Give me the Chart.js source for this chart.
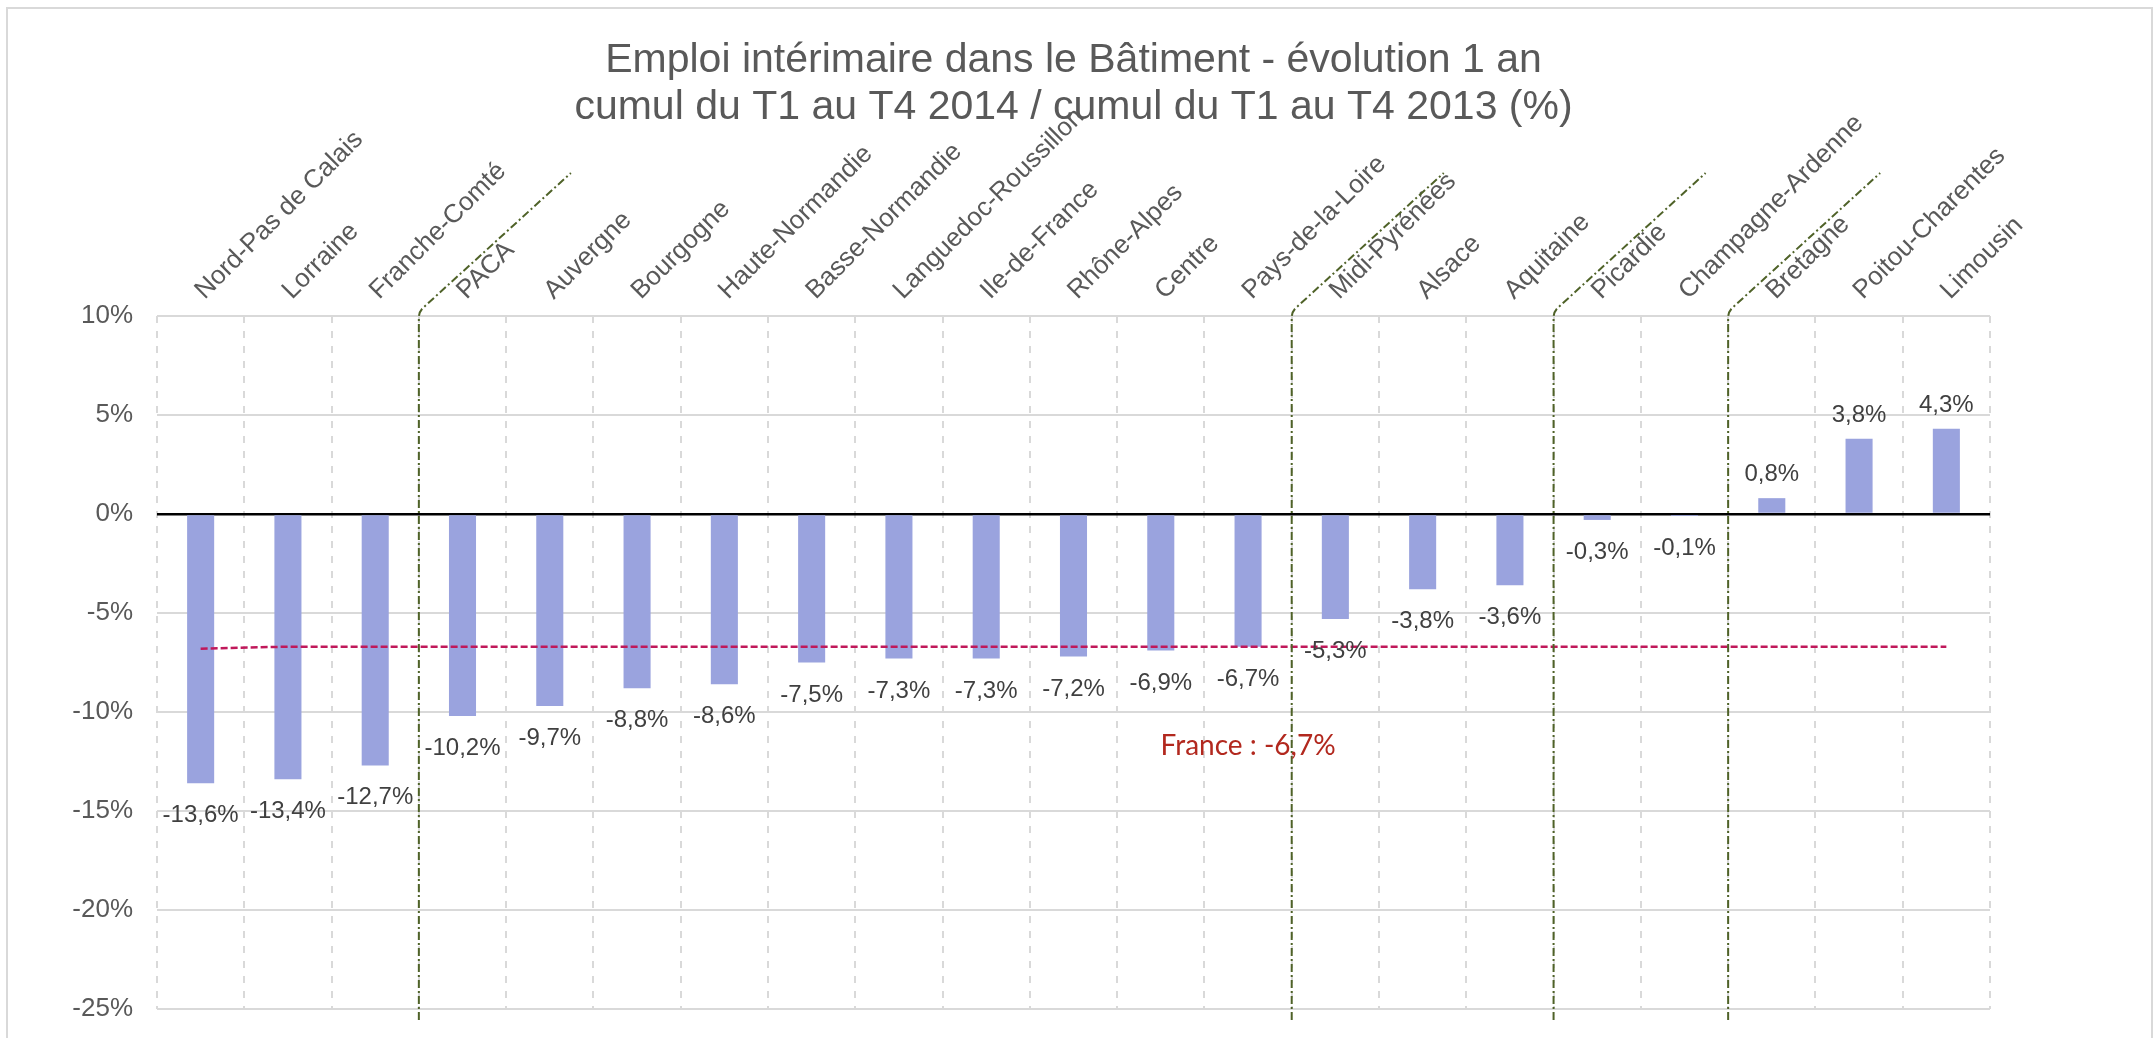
<!DOCTYPE html>
<html lang="fr">
<head>
<meta charset="UTF-8">
<title>Emploi intérimaire dans le Bâtiment</title>
<script src="https://cdn.jsdelivr.net/npm/chart.js@4"></script>
<style>
  html, body { margin: 0; padding: 0; background: #fff; overflow: hidden; }
  canvas { display: block; }
</style>
</head>
<body>
<canvas id="chart" width="2154" height="1038"></canvas>
<script>
const titleLines = [
  "Emploi intérimaire dans le Bâtiment - évolution 1 an",
  "cumul du T1 au T4 2014 / cumul du T1 au T4 2013 (%)"
];

const regions = [
  "Nord-Pas de Calais", "Lorraine", "Franche-Comté", "PACA", "Auvergne",
  "Bourgogne", "Haute-Normandie", "Basse-Normandie", "Languedoc-Roussillon",
  "Ile-de-France", "Rhône-Alpes", "Centre", "Pays-de-la-Loire", "Midi-Pyrénées",
  "Alsace", "Aquitaine", "Picardie", "Champagne-Ardenne", "Bretagne",
  "Poitou-Charentes", "Limousin"
];

const evolution = [
  -13.6, -13.4, -12.7, -10.2, -9.7, -8.8, -8.6, -7.5, -7.3, -7.3, -7.2,
  -6.9, -6.7, -5.3, -3.8, -3.6, -0.3, -0.1, 0.8, 3.8, 4.3
];

// moyenne France, tracée en pointillés
const franceLine = [
  -6.8, -6.7, -6.7, -6.7, -6.7, -6.7, -6.7, -6.7, -6.7, -6.7, -6.7,
  -6.7, -6.7, -6.7, -6.7, -6.7, -6.7, -6.7, -6.7, -6.7, -6.7
];
const franceText = "France : -6,7%";

// séparateurs placés avant ces catégories
const separatorsBefore = [3, 13, 16, 18];

const yMin = -25, yMax = 10, yStep = 5;

const FONT = '"Liberation Sans", Arial, sans-serif';

function fmt(v) {
  return v.toFixed(1).replace('.', ',') + '%';
}

const overlay = {
  id: 'overlay',
  beforeDraw(chart) {
    const ctx = chart.ctx;
    ctx.save();
    ctx.strokeStyle = '#d9d9d9';
    ctx.lineWidth = 2;
    ctx.strokeRect(7, 8, 2145, 1040);
    ctx.restore();
  },
  afterDatasetsDraw(chart) {
    const { ctx, chartArea } = chart;
    const x = chart.scales.x, y = chart.scales.y;

    // étiquettes de valeurs
    const meta = chart.getDatasetMeta(0);
    ctx.save();
    ctx.font = '24px ' + FONT;
    ctx.fillStyle = '#404040';
    ctx.textAlign = 'center';
    ctx.textBaseline = 'alphabetic';
    meta.data.forEach((bar, i) => {
      const v = evolution[i];
      ctx.fillText(fmt(v), bar.x, v < 0 ? bar.y + 39 : bar.y - 17);
    });
    ctx.restore();

    // séparateurs vert olive
    ctx.save();
    ctx.strokeStyle = '#4f6228';
    ctx.lineWidth = 2;
    ctx.setLineDash([8, 3, 2, 3]);
    separatorsBefore.forEach(i => {
      const px = (x.getPixelForValue(i - 1) + x.getPixelForValue(i)) / 2;
      ctx.beginPath();
      ctx.moveTo(px, chartArea.bottom + 11);
      ctx.lineTo(px, chartArea.top + 2);
      ctx.quadraticCurveTo(px, chartArea.top - 4, px + 4, chartArea.top - 8);
      ctx.lineTo(px + 152, chartArea.top - 143);
      ctx.stroke();
    });
    ctx.restore();

    // libellé France
    ctx.save();
    ctx.font = '28px Lato, ' + FONT;
    ctx.fillStyle = '#b2281e';
    ctx.textAlign = 'center';
    ctx.textBaseline = 'middle';
    ctx.fillText(franceText, x.getPixelForValue(12), y.getPixelForValue(-11.7));
    ctx.restore();
  }
};

new Chart(document.getElementById('chart'), {
  type: 'bar',
  data: {
    labels: regions,
    datasets: [
      {
        type: 'bar',
        data: evolution,
        backgroundColor: '#9aa3de',
        categoryPercentage: 1,
        barPercentage: 0.31,
        order: 1
      },
      {
        type: 'line',
        data: franceLine,
        borderColor: '#c0185a',
        borderWidth: 2.5,
        borderDash: [7, 3],
        pointRadius: 0,
        tension: 0,
        fill: false,
        order: 0
      }
    ]
  },
  options: {
    responsive: false,
    animation: false,
    events: [],
    layout: { padding: { left: 0, right: 164, top: 7, bottom: 29 } },
    plugins: {
      legend: { display: false },
      tooltip: { enabled: false },
      title: {
        display: true,
        fullSize: false,
        text: titleLines,
        color: '#595959',
        font: { family: FONT, size: 41, weight: 'normal', lineHeight: 1.15 },
        // bas négatif : les libellés inclinés peuvent remonter sous le titre
        padding: { top: 30, bottom: -70 }
      }
    },
    scales: {
      x: {
        position: 'top',
        offset: true,
        grid: { offset: true, color: '#d9d9d9', lineWidth: 2, drawTicks: false },
        border: { display: false, dash: [7, 8] },
        ticks: {
          autoSkip: false,
          minRotation: 45,
          maxRotation: 45,
          padding: 10,
          labelOffset: 21,
          color: '#595959',
          font: { family: FONT, size: 26 }
        },
        afterFit(s) { s.height = 254.7; }
      },
      y: {
        min: yMin,
        max: yMax,
        ticks: {
          stepSize: yStep,
          padding: 24,
          color: '#595959',
          font: { family: FONT, size: 26 },
          callback: v => v + '%'
        },
        grid: {
          color: c => c.tick && c.tick.value === 0 ? '#000000' : '#d9d9d9',
          lineWidth: c => c.tick && c.tick.value === 0 ? 2.5 : 2,
          drawTicks: false
        },
        border: { display: false },
        afterFit(s) {
          s.width = 157;
          s.paddingTop = 0;
          s.paddingBottom = 0;
        }
      }
    }
  },
  plugins: [overlay]
});
</script>
</body>
</html>
